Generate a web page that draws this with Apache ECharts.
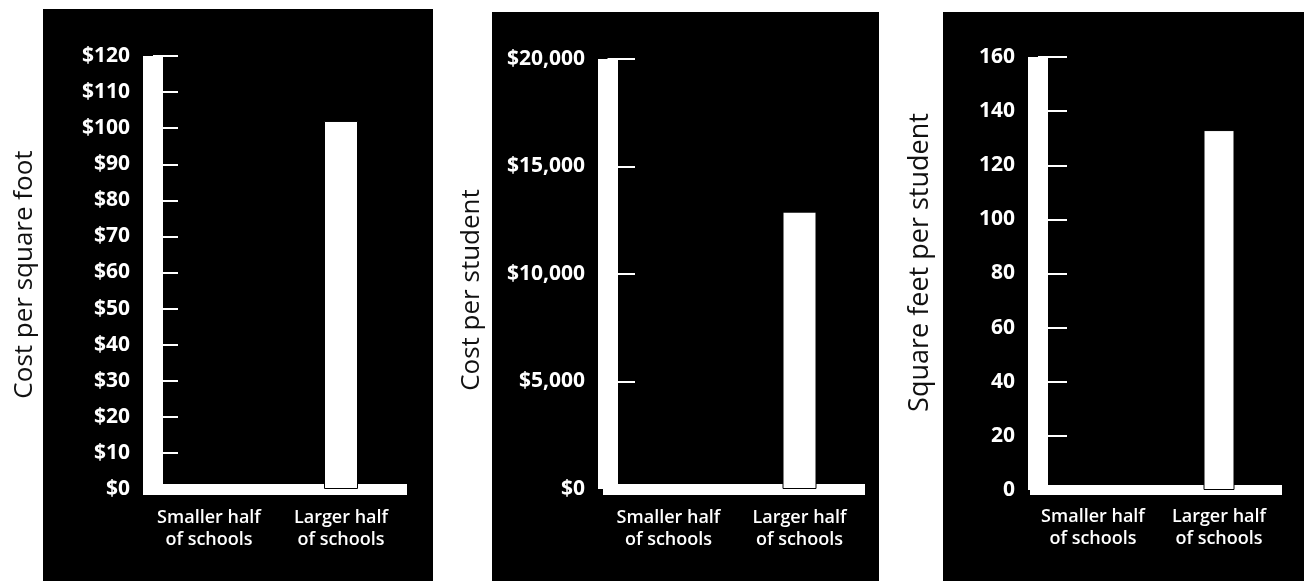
<!DOCTYPE html>
<html>
<head>
<meta charset="utf-8">
<script src="https://cdn.jsdelivr.net/npm/echarts@6/dist/echarts.min.js"></script>
<style>
  html, body { margin: 0; padding: 0; background: #fff; }
  #main { width: 1304px; height: 581px; }
</style>
</head>
<body>
<div id="main"></div>
<script>
// categories + values (smaller half bars are not visible)
var categories = ['Smaller half\nof schools', 'Larger half\nof schools'];
var costPerSqFt = [null, 102];
var costPerStudent = [null, 12900];
var sqFtPerStudent = [null, 133];

var yNames = ['Cost per square foot', 'Cost per student', 'Square feet per student'];
var yMax = [120, 20000, 160];
var yStep = [10, 5000, 20];

var font = '"Open Sans", "DejaVu Sans", sans-serif';

function money(v) {
    return '$' + Number(v).toLocaleString('en-US');
}

// one entry per panel: grid box, axis offsets, tick length etc
// namePad nudges the rotated title up/down along the axis
var panels = [
    {left: 143, width: 264, top: 56, bottom: 92, yOff: -10, tick: 25, lblMargin: 23, nameGap: 115, namePad: [0, 4, 0, 0], nameSize: 26, xOff: 4.5, xW: 11, barW: 34, fmt: money, data: costPerSqFt},
    {left: 603, width: 262, top: 59, bottom: 92, yOff: -4.5, tick: 27.5, lblMargin: 22.5, nameGap: 123, namePad: [0, 32, 0, 0], nameSize: 26, xOff: 4.5, xW: 11, barW: 34, fmt: money, data: costPerStudent},
    {left: 1030, width: 252, top: 57, bottom: 91, yOff: -8, tick: 29, lblMargin: 23, nameGap: 104, namePad: [0, 0, 0, 22], nameSize: 27, xOff: 3, xW: 10, barW: 31, fmt: '{value}', data: sqFtPerStudent}
];

var grids = [], xAxes = [], yAxes = [], series = [];

panels.forEach(function (p, i) {
    grids.push({left: p.left, width: p.width, top: p.top, bottom: p.bottom});
    xAxes.push({
        type: 'category',
        gridIndex: i,
        data: categories,
        offset: p.xOff,
        axisLine: {lineStyle: {color: '#fff', width: p.xW, cap: 'butt'}},
        axisTick: {show: false},
        axisLabel: {
            interval: 0,
            color: '#fff',
            fontFamily: font,
            fontWeight: 600,
            fontSize: 18,
            lineHeight: 22,
            margin: 13
        }
    });
    yAxes.push({
        type: 'value',
        gridIndex: i,
        min: 0,
        max: yMax[i],
        interval: yStep[i],
        offset: p.yOff,
        name: yNames[i],
        nameLocation: 'middle',
        nameGap: p.nameGap,
        nameTextStyle: {color: '#111', fontFamily: font, fontSize: p.nameSize, padding: p.namePad},
        axisLine: {show: true, lineStyle: {color: '#fff', width: 20, cap: 'butt'}},
        axisTick: {show: true, inside: true, length: p.tick, lineStyle: {color: '#fff', width: 2, cap: 'butt'}},
        splitLine: {show: false},
        axisLabel: {
            color: '#fff',
            fontFamily: font,
            fontWeight: 'bold',
            fontSize: 21,
            margin: p.lblMargin,
            formatter: p.fmt
        }
    });
    series.push({
        type: 'bar',
        xAxisIndex: i,
        yAxisIndex: i,
        barWidth: p.barW,
        data: p.data,
        itemStyle: {color: '#fff', borderColor: '#000', borderWidth: 1}
    });
});

var option = {
    animation: false,
    backgroundColor: '#fff',
    graphic: [
        {type: 'rect', z: -10, shape: {x: 43, y: 9, width: 390, height: 572}, style: {fill: '#000'}},
        {type: 'rect', z: -10, shape: {x: 492, y: 12, width: 387, height: 569}, style: {fill: '#000'}},
        {type: 'rect', z: -10, shape: {x: 943, y: 12, width: 361, height: 569}, style: {fill: '#000'}}
    ],
    grid: grids,
    xAxis: xAxes,
    yAxis: yAxes,
    series: series
};

var chart = echarts.init(document.getElementById('main'));
chart.setOption(option);
</script>
</body>
</html>
